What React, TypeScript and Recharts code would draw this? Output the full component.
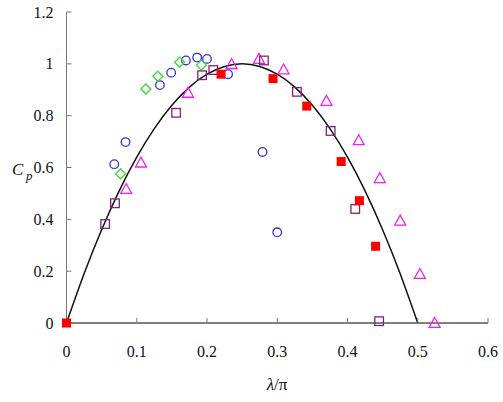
import { ComposedChart, Line, Scatter, XAxis, YAxis } from 'recharts'

// fitted Cp curve
const curveX = [0, 0.025, 0.05, 0.075, 0.1, 0.125, 0.15, 0.175, 0.2, 0.225, 0.25, 0.275, 0.3, 0.325, 0.35, 0.375, 0.4, 0.425, 0.45, 0.475, 0.5]
const curveCp = [0, 0.19, 0.36, 0.51, 0.64, 0.75, 0.84, 0.91, 0.96, 0.99, 1.0, 0.99, 0.96, 0.91, 0.84, 0.75, 0.64, 0.51, 0.36, 0.19, 0]

// blue open circles
const circleX = [0.068, 0.084, 0.133, 0.149, 0.17, 0.186, 0.2, 0.23, 0.279, 0.3]
const circleCp = [0.613, 0.698, 0.918, 0.966, 1.013, 1.024, 1.019, 0.96, 0.66, 0.35]

// green diamonds
const diamondX = [0.077, 0.113, 0.13, 0.161, 0.192]
const diamondCp = [0.576, 0.903, 0.952, 1.006, 0.995]

// magenta triangles
const triangleX = [0.085, 0.106, 0.173, 0.235, 0.274, 0.309, 0.37, 0.416, 0.446, 0.475, 0.503, 0.524]
const triangleCp = [0.517, 0.619, 0.888, 0.999, 1.019, 0.978, 0.857, 0.705, 0.559, 0.395, 0.189, 0.0]

// purple open squares
const squareX = [0.055, 0.069, 0.156, 0.193, 0.209, 0.281, 0.328, 0.376, 0.411, 0.445]
const squareCp = [0.382, 0.462, 0.811, 0.956, 0.976, 1.013, 0.892, 0.741, 0.44, 0.007]

// red filled squares
const redX = [0, 0.22, 0.294, 0.342, 0.391, 0.417, 0.44]
const redCp = [0, 0.96, 0.943, 0.837, 0.623, 0.472, 0.296]

const xTicks = [0, 0.1, 0.2, 0.3, 0.4, 0.5, 0.6]
const yTicks = [0, 0.2, 0.4, 0.6, 0.8, 1, 1.2]

const pts = (xs: number[], ys: number[]) => xs.map((x, i) => ({ x, cp: ys[i] }))

const FONT = "'Liberation Serif', 'DejaVu Serif', serif"

const OpenCircle = (p: any) => (
  <circle cx={p.cx} cy={p.cy} r={4.3} fill="none" stroke="#3232dc" strokeWidth={1.3} />
)
const Diamond = (p: any) => {
  const s = 5
  return (
    <path
      d={`M${p.cx},${p.cy - s}L${p.cx + s},${p.cy}L${p.cx},${p.cy + s}L${p.cx - s},${p.cy}Z`}
      fill="none"
      stroke="#33e033"
      strokeWidth={1.3}
    />
  )
}
const Triangle = (p: any) => {
  const s = 5.5
  return (
    <path
      d={`M${p.cx},${p.cy - s}L${p.cx + s},${p.cy + s * 0.8}L${p.cx - s},${p.cy + s * 0.8}Z`}
      fill="none"
      stroke="#ee22ee"
      strokeWidth={1.3}
    />
  )
}
const OpenSquare = (p: any) => (
  <rect x={p.cx - 4.3} y={p.cy - 4.3} width={8.6} height={8.6} fill="none" stroke="#802080" strokeWidth={1.3} />
)
const RedSquare = (p: any) => (
  <rect x={p.cx - 4.5} y={p.cy - 4.5} width={9} height={9} fill="#ff0000" />
)

// tick label drawn by hand so the serif face is applied
const Tick = (p: any) => (
  <text
    x={p.x}
    y={p.y}
    dy={p.dy}
    textAnchor={p.textAnchor}
    fill="#111"
    fontSize={16}
    style={{ fontFamily: FONT }}
  >
    {p.payload.value}
  </text>
)
const XTick = (p: any) => <Tick {...p} dy={11} />
const YTick = (p: any) => <Tick {...p} dy={5.5} />

export default function App() {
  return (
    <div
      style={{
        position: 'absolute',
        left: 0,
        top: 0,
        width: 503,
        height: 402,
        background: '#fff',
        fontFamily: FONT,
      }}
    >
      <ComposedChart width={503} height={402} margin={{ top: 12, right: 15, bottom: 0, left: 0 }}>
        <XAxis
          type="number"
          dataKey="x"
          domain={[0, 0.6]}
          ticks={xTicks}
          height={79}
          tickSize={-5}
          tickMargin={28}
          axisLine={{ stroke: '#000', strokeWidth: 1 }}
          tickLine={{ stroke: '#777' }}
          tick={XTick}
          label={{
            content: () => (
              <text x={277} y={390} textAnchor="middle" style={{ fontFamily: FONT }} fontSize={17} fill="#111">
                <tspan fontStyle="italic">λ</tspan>/π
              </text>
            ),
          }}
        />
        <YAxis
          type="number"
          dataKey="cp"
          domain={[0, 1.2]}
          ticks={yTicks}
          width={66.5}
          tickSize={-5}
          tickMargin={18}
          axisLine={{ stroke: '#777', strokeWidth: 1 }}
          tickLine={{ stroke: '#777' }}
          tick={YTick}
          label={{
            content: () => (
              <text x={12} y={175} style={{ fontFamily: FONT }} fontSize={17} fill="#111" fontStyle="italic">
                C
                <tspan x={26} y={180} fontSize={13}>p</tspan>
              </text>
            ),
          }}
        />
        <Line
          data={pts(curveX, curveCp)}
          dataKey="cp"
          type="natural"
          stroke="#111"
          strokeWidth={1.5}
          dot={false}
          activeDot={false}
          isAnimationActive={false}
        />
        <Scatter data={pts(circleX, circleCp)} dataKey="cp" shape={OpenCircle} isAnimationActive={false} />
        <Scatter data={pts(diamondX, diamondCp)} dataKey="cp" shape={Diamond} isAnimationActive={false} />
        <Scatter data={pts(triangleX, triangleCp)} dataKey="cp" shape={Triangle} isAnimationActive={false} />
        <Scatter data={pts(squareX, squareCp)} dataKey="cp" shape={OpenSquare} isAnimationActive={false} />
        <Scatter data={pts(redX, redCp)} dataKey="cp" shape={RedSquare} isAnimationActive={false} />
      </ComposedChart>
    </div>
  )
}
